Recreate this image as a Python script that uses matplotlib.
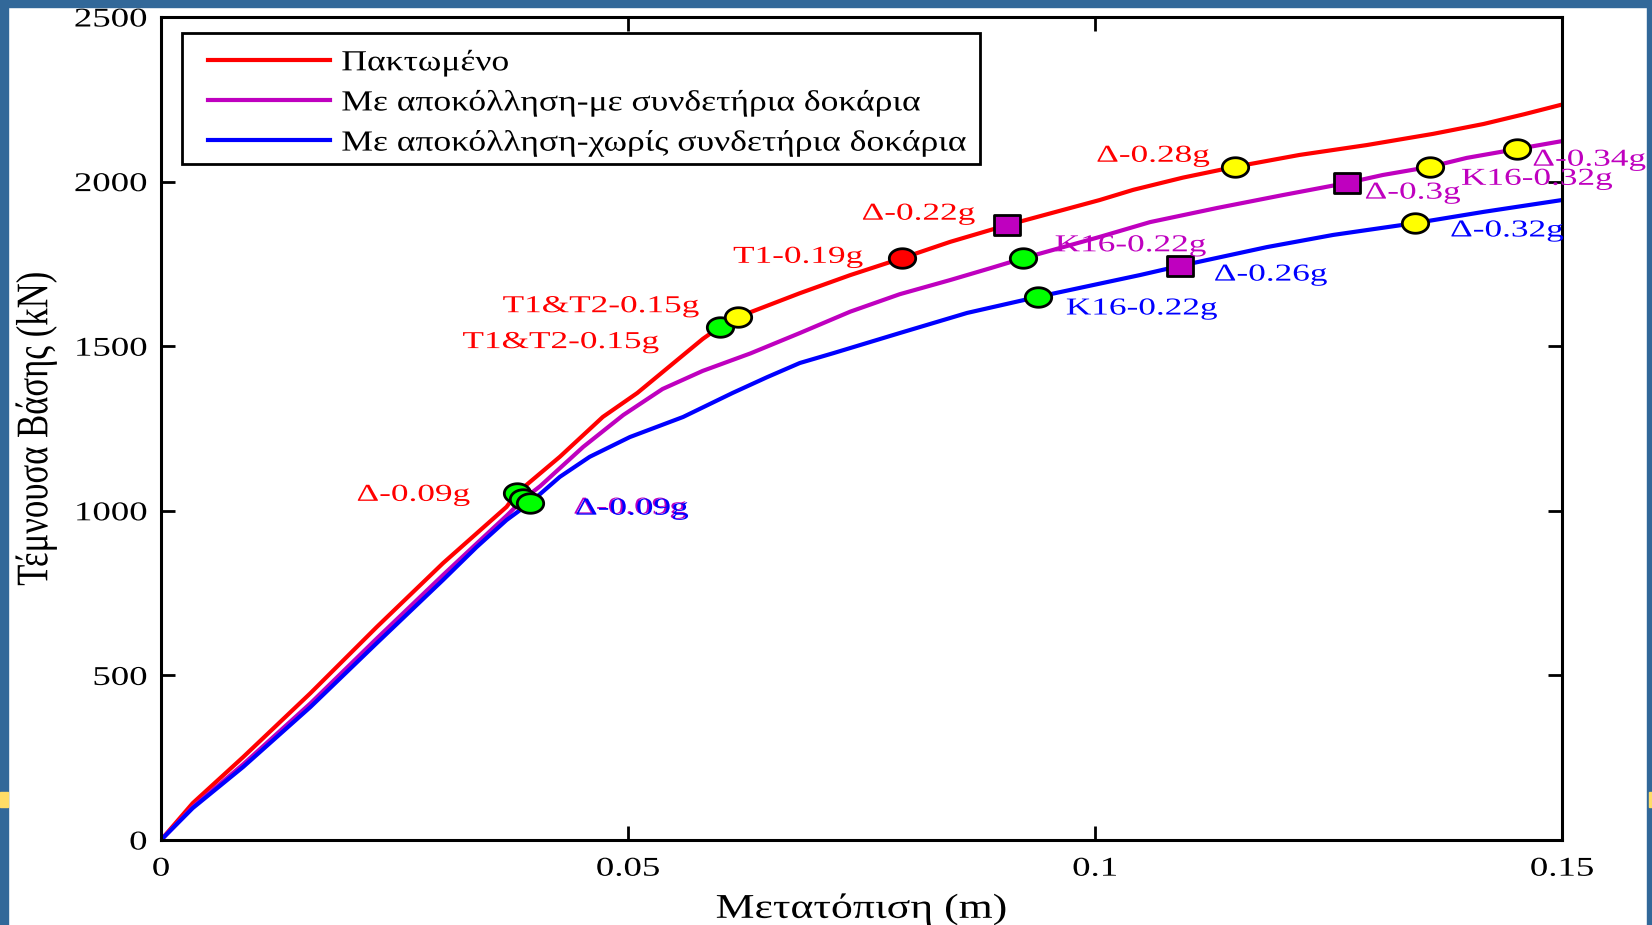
import matplotlib
matplotlib.use("Agg")
import matplotlib.pyplot as plt
from matplotlib.path import Path
from matplotlib.patches import Rectangle
from matplotlib.patheffects import AbstractPathEffect
from matplotlib.transforms import Affine2D
import numpy as np

plt.rcParams['font.family'] = ['Liberation Serif', 'DejaVu Serif']

# ---------------- data ----------------
red_x = [0, 0.0034, 0.0088, 0.016, 0.0231, 0.0302, 0.0370, 0.0381, 0.0427, 0.0473, 0.0510,
         0.0545, 0.0580, 0.0598, 0.0618, 0.0684, 0.0738, 0.0793, 0.0845, 0.0906, 0.1005,
         0.1041, 0.1094, 0.1150, 0.1219, 0.1291, 0.1362, 0.1416, 0.1460, 0.15]
red_y = [0, 112, 252, 446, 647, 841, 1012, 1054, 1164, 1285, 1358,
         1440, 1522, 1558, 1589, 1661, 1716, 1767, 1817, 1868, 1944,
         1975, 2012, 2045, 2081, 2111, 2145, 2175, 2205, 2234]

mag_x = [0, 0.0034, 0.0088, 0.016, 0.0231, 0.0302, 0.0334, 0.0370, 0.0388, 0.0406, 0.0452,
         0.0495, 0.0537, 0.0580, 0.0631, 0.0684, 0.0738, 0.0791, 0.0845, 0.0888, 0.0923,
         0.1005, 0.1059, 0.1131, 0.1201, 0.1270, 0.1308, 0.1359, 0.1398, 0.1452, 0.15]
mag_y = [0, 100, 230, 415, 612, 805, 890, 985, 1035, 1075, 1194,
         1291, 1370, 1425, 1478, 1540, 1605, 1658, 1701, 1737, 1767,
         1832, 1877, 1920, 1959, 1996, 2020, 2045, 2072, 2099, 2123]

blu_x = [0, 0.0034, 0.0088, 0.016, 0.0231, 0.0302, 0.0338, 0.0370, 0.0395, 0.0427, 0.0459,
         0.0502, 0.0559, 0.0612, 0.0649, 0.0684, 0.0720, 0.0791, 0.0863, 0.0939, 0.1005,
         0.1048, 0.1091, 0.1184, 0.1255, 0.1343, 0.1416, 0.15]
blu_y = [0, 97, 222, 404, 598, 790, 890, 972, 1024, 1103, 1164,
         1224, 1285, 1358, 1406, 1449, 1479, 1540, 1601, 1650, 1690,
         1716, 1744, 1801, 1838, 1874, 1908, 1944]

series_labels = ["Πακτωμένο",
                 "Με αποκόλληση-με συνδετήρια δοκάρια",
                 "Με αποκόλληση-χωρίς συνδετήρια δοκάρια"]

# markers: x, y, face colour, shape
mk_x = [0.0381, 0.0598, 0.0618, 0.0793, 0.0906, 0.1150,
        0.0388, 0.0923, 0.1270, 0.1359, 0.1452,
        0.0395, 0.0939, 0.1091, 0.1343]
mk_y = [1054, 1558, 1589, 1767, 1868, 2045,
        1035, 1767, 1996, 2045, 2099,
        1024, 1650, 1744, 1874]
mk_c = ['#00FF00', '#00FF00', '#FFFF00', '#FF0000', '#BF00BF', '#FFFF00',
        '#00FF00', '#00FF00', '#BF00BF', '#FFFF00', '#FFFF00',
        '#00FF00', '#00FF00', '#BF00BF', '#FFFF00']
mk_s = ['o', 'o', 'o', 'o', 's', 'o',
        'o', 'o', 's', 'o', 'o',
        'o', 'o', 's', 'o']

# annotation labels
lab_t = ["Δ-0.09g", "T1&T2-0.15g", "T1&T2-0.15g", "T1-0.19g", "Δ-0.22g", "Δ-0.28g",
         "Δ-0.09g", "K16-0.22g", "Δ-0.3g", "K16-0.32g", "Δ-0.34g",
         "Δ-0.09g", "Δ-0.26g", "K16-0.22g", "Δ-0.32g"]
lab_x = [0.0270, 0.0471, 0.0428, 0.0682, 0.0811, 0.1062,
         0.0502, 0.1038, 0.1340, 0.1473, 0.1529,
         0.0504, 0.1188, 0.1050, 0.1441]
lab_y = [1047, 1620, 1511, 1770, 1901, 2077,
         1008, 1805, 1965, 2007, 2065,
         1005, 1716, 1613, 1850]
lab_c = ['#FF0000'] * 6 + ['#BF00BF'] * 5 + ['#0000FF'] * 4


# horizontal stretch of rendered glyphs (the reference image is stretched sideways)
class HStretch(AbstractPathEffect):
    def __init__(self, sx=1.35, anchor='center'):
        super().__init__()
        self.sx = sx
        self.anchor = anchor

    def draw_path(self, renderer, gc, tpath, affine, rgbFace=None):
        ext = tpath.get_extents(affine)
        if self.anchor == 'left':
            a = ext.x0
        elif self.anchor == 'right':
            a = ext.x1
        else:
            a = 0.5 * (ext.x0 + ext.x1)
        aff = affine + Affine2D().translate(-a, 0).scale(self.sx, 1).translate(a, 0)
        renderer.draw_path(gc, tpath, aff, rgbFace)


# ---------------- figure ----------------
fig = plt.figure(figsize=(16.52, 9.25), dpi=100)
fig.patch.set_facecolor('white')
W, H = 1652, 925
frame = '#326899'
fig.patches.append(Rectangle((0, 0), 8 / W, 1, transform=fig.transFigure, color=frame, zorder=0))
fig.patches.append(Rectangle((0, 1 - 7 / H), 1, 7 / H, transform=fig.transFigure, color=frame, zorder=0))
fig.patches.append(Rectangle((1 - 5 / W, 0), 5 / W, 1, transform=fig.transFigure, color=frame, zorder=0))
fig.patches.append(Rectangle((0, 1 - 807 / H), 8 / W, 15 / H, transform=fig.transFigure, color='#FFDD66', zorder=1))
fig.patches.append(Rectangle((1 - 3 / W, 1 - 807 / H), 3 / W, 15 / H, transform=fig.transFigure, color='#FFDD66', zorder=1))

ax = fig.add_axes([161 / W, 1 - 840 / H, (1562 - 161) / W, (840 - 17) / H])

colors = ['#FF0000', '#BF00BF', '#0000FF']
for xs, ys, c, lab in zip([red_x, mag_x, blu_x], [red_y, mag_y, blu_y], colors, series_labels):
    ax.plot(xs, ys, color=c, lw=3.0, label=lab, solid_joinstyle='round')

# stretched marker shapes (wider than tall)
t = np.linspace(0, 2 * np.pi, 60)
ell = Path(np.column_stack([np.cos(t), 0.74 * np.sin(t)]), closed=True)
rect = Path([(-1, -0.77), (1, -0.77), (1, 0.77), (-1, 0.77), (-1, -0.77)], closed=True)
for x, y, c, s in zip(mk_x, mk_y, mk_c, mk_s):
    ax.plot([x], [y], linestyle='none', marker=ell if s == 'o' else rect,
            markersize=19, markerfacecolor=c, markeredgecolor='black', markeredgewidth=2.0, zorder=5)

for tx, x, y, c in zip(lab_t, lab_x, lab_y, lab_c):
    ax.text(x, y, tx, color=c, fontsize=17.5, ha='center', va='center', zorder=6, clip_on=False,
            path_effects=[HStretch(1.45, 'center')])

ax.set_xlim(0, 0.15)
ax.set_ylim(0, 2500)
ax.set_xticks([0, 0.05, 0.1, 0.15])
ax.set_xticklabels(['0', '0.05', '0.1', '0.15'])
ax.set_yticks([0, 500, 1000, 1500, 2000, 2500])
ax.tick_params(direction='in', length=10, width=2, labelsize=19.5, top=True, right=True)
ax.tick_params(axis='x', pad=12)
ax.tick_params(axis='y', pad=10)
for lbl in ax.get_xticklabels():
    lbl.set_path_effects([HStretch(1.36, 'center')])
for lbl in ax.get_yticklabels():
    lbl.set_path_effects([HStretch(1.36, 'right')])
for sp in ax.spines.values():
    sp.set_linewidth(2.2)

xl = ax.set_xlabel('Μετατόπιση (m)', fontsize=25, labelpad=8)
xl.set_path_effects([HStretch(1.26, 'center')])
yl = ax.set_ylabel('Τέμνουσα Βάσης (kN)', fontsize=25, labelpad=29)
yl.set_path_effects([HStretch(1.3, 'center')])

# legend frame (box) and entries
ax.add_patch(Rectangle((0.015, 0.8214), 0.5696, 0.1592, transform=ax.transAxes,
                       facecolor='white', edgecolor='black', lw=2.0, zorder=7, clip_on=False))
leg = ax.legend(loc='upper left', bbox_to_anchor=(0.0335, 0.9607), borderaxespad=0, borderpad=0,
                fontsize=21, handlelength=4.18, handletextpad=0.4, labelspacing=0.45,
                frameon=False)
leg.set_zorder(8)
for txt in leg.get_texts():
    txt.set_path_effects([HStretch(1.22, 'left')])

fig.savefig('out.png', dpi=100)
